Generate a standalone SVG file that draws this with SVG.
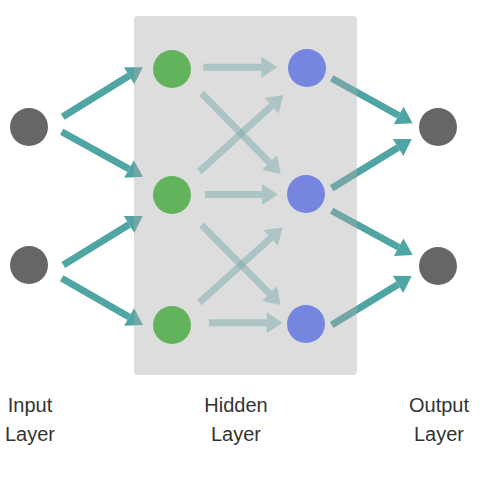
<svg xmlns="http://www.w3.org/2000/svg" width="500" height="479" viewBox="0 0 500 479">
<defs>
<style>
.strong{stroke:#4fa4a4;stroke-width:7;fill:none;marker-end:url(#hs)}
.light{stroke:#4fa4a4;stroke-opacity:0.45;stroke-width:7;fill:none;marker-end:url(#hl)}
.io{fill:#666666}
.hid{fill:#63b35c}
.blu{fill:#7686e0}
.lbl{font-family:"Liberation Sans",Arial,sans-serif;font-size:20px;fill:#333333;text-anchor:middle}
</style>
<marker id="hs" markerUnits="userSpaceOnUse" viewBox="0 -11 17 22" refX="0" refY="0" markerWidth="17" markerHeight="22" orient="auto" overflow="visible">
<path d="M0,-10 L16,0 L0,10 Z" fill="#4fa4a4"/>
</marker>
<marker id="hl" markerUnits="userSpaceOnUse" viewBox="0 -11 17 22" refX="0" refY="0" markerWidth="17" markerHeight="22" orient="auto" overflow="visible">
<path d="M0,-10.5 L16,0 L0,10.5 Z" fill="#4fa4a4" fill-opacity="0.45"/>
</marker>
</defs>
<g id="connectors">
<line class="strong" x1="62.7" y1="116.7" x2="129.1" y2="75.7"/>
<line class="strong" x1="61.7" y1="131.7" x2="129.0" y2="169.0"/>
<line class="strong" x1="63.3" y1="265" x2="129.1" y2="224.4"/>
<line class="strong" x1="61.7" y1="278.3" x2="129.1" y2="317.0"/>
<line class="strong" x1="331.7" y1="78.3" x2="398.7" y2="115.5"/>
<line class="strong" x1="331.7" y1="188.3" x2="398.1" y2="147.4"/>
<line class="strong" x1="331.7" y1="210.7" x2="398.7" y2="247.3"/>
<line class="strong" x1="331.7" y1="325" x2="398.0" y2="284.4"/>
<line class="light" x1="203.3" y1="67.3" x2="261.3" y2="67.3"/>
<line class="light" x1="201.7" y1="93.3" x2="269.5" y2="162.6"/>
<line class="light" x1="199.3" y1="171.7" x2="271.5" y2="105.8"/>
<line class="light" x1="205" y1="194.5" x2="262" y2="194.5"/>
<line class="light" x1="201.7" y1="225" x2="269.5" y2="293.6"/>
<line class="light" x1="199.3" y1="302.7" x2="270.8" y2="238.0"/>
<line class="light" x1="209" y1="322.7" x2="266.7" y2="322.7"/>
</g>
<rect id="hidden-box" x="134" y="16" width="223" height="359" rx="4" fill="#aaaaaa" fill-opacity="0.4"/>
<g id="in1"><circle class="io" cx="29" cy="127" r="19"/></g>
<g id="in2"><circle class="io" cx="29" cy="265" r="19"/></g>
<g id="h1"><circle class="hid" cx="172" cy="69" r="19"/></g>
<g id="h2"><circle class="hid" cx="172" cy="195" r="19"/></g>
<g id="h3"><circle class="hid" cx="172" cy="325" r="19"/></g>
<g id="b1"><circle class="blu" cx="307" cy="68" r="19"/></g>
<g id="b2"><circle class="blu" cx="306" cy="194" r="19"/></g>
<g id="b3"><circle class="blu" cx="306" cy="324" r="19"/></g>
<g id="out1"><circle class="io" cx="438" cy="127" r="19"/></g>
<g id="out2"><circle class="io" cx="438" cy="266" r="19"/></g>
<g id="labels">
<text class="lbl" x="30" y="412">Input</text>
<text class="lbl" x="30" y="441">Layer</text>
<text class="lbl" x="236" y="412">Hidden</text>
<text class="lbl" x="236" y="441">Layer</text>
<text class="lbl" x="439" y="412">Output</text>
<text class="lbl" x="439" y="441">Layer</text>
</g>
</svg>
